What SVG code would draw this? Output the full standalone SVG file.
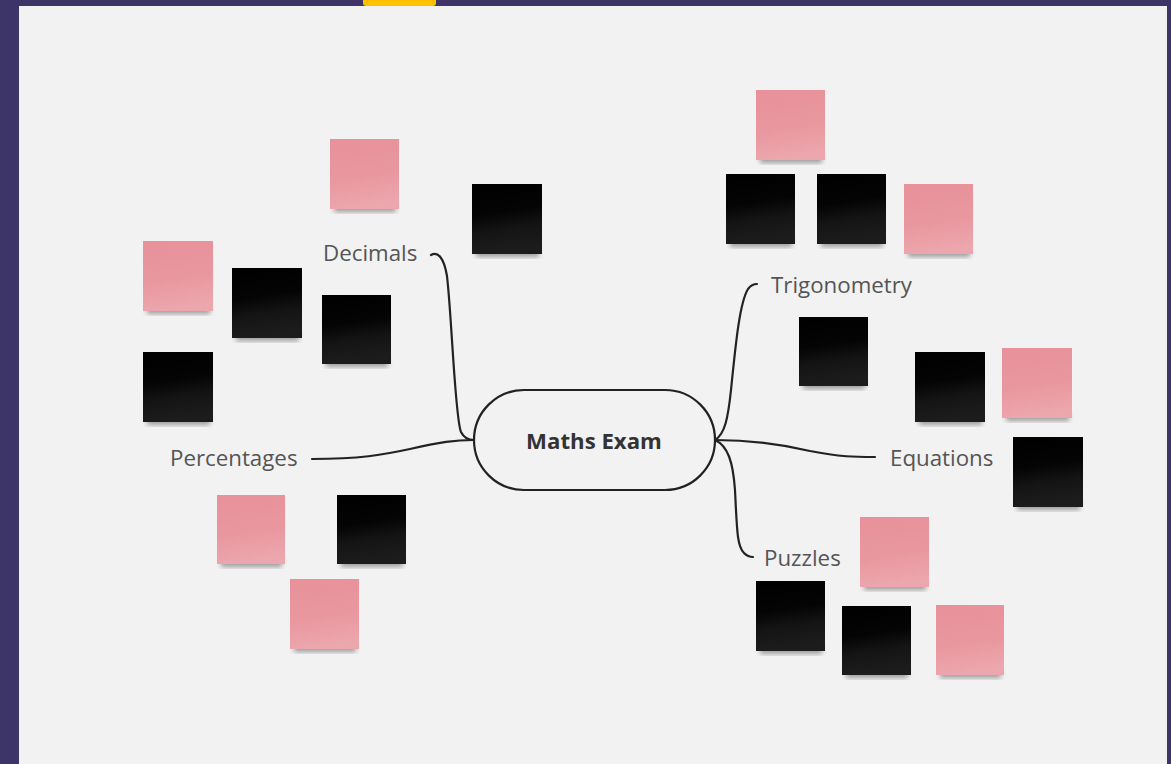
<svg xmlns="http://www.w3.org/2000/svg" width="1171" height="764" viewBox="0 0 1171 764">
<style>
.lbl{font-family:"Open Sans","Liberation Sans",sans-serif;font-size:22.3px;fill:#555555}
.title{font-family:"Open Sans","Liberation Sans",sans-serif;font-size:22.2px;font-weight:bold;fill:#333333}
.conn{fill:none;stroke:#222222;stroke-width:2.2;stroke-linecap:round}
.pink{fill:url(#gPink)}
.black{fill:url(#gBlack)}
.sh{fill:#000;opacity:0.35;filter:url(#blur)}
</style>
<defs>
<linearGradient id="gPink" x1="0" y1="0" x2="0.15" y2="1">
<stop offset="0" stop-color="#e8919a"/>
<stop offset="0.6" stop-color="#e9979f"/>
<stop offset="1" stop-color="#eca6ad"/>
</linearGradient>
<linearGradient id="gBlack" x1="0" y1="0" x2="0.15" y2="1">
<stop offset="0" stop-color="#000000"/>
<stop offset="0.45" stop-color="#040404"/>
<stop offset="0.7" stop-color="#141414"/>
<stop offset="1" stop-color="#1c1c1c"/>
</linearGradient>
<filter id="blur" x="-20%" y="-20%" width="140%" height="140%">
<feGaussianBlur stdDeviation="2.5"/>
</filter>
</defs>
<rect x="0" y="0" width="1171" height="764" fill="#3d3468"/>
<rect x="19" y="6" width="1148" height="758" fill="#f2f2f2"/>
<path d="M363,0 H436 V3 Q436,6 433,6 H366 Q363,6 363,3 Z" fill="#ffc000"/>

<g id="connectors">
<path class="conn" d="M431,255 C438,251 444,258 447,276 C452,320 455,418 461,432 C464,438 469,440 474,440"/>
<path class="conn" d="M312,459 C360,459 382,455 410,449 C440,442 455,440 474,440"/>
<path class="conn" d="M715,440 C725,434 728,418 731,390 C736,340 740,302 748,289 C751,285 754,284 757,284"/>
<path class="conn" d="M715,440 C745,440 780,444 810,451 C840,457 855,457 875,457"/>
<path class="conn" d="M715,440 C728,446 733,462 735,490 C737,530 737,546 744,553 C747,556 750,557 753,557"/>
</g>

<g id="center">
<rect x="474" y="390" width="241" height="100" rx="50" ry="50" fill="#f2f2f2" stroke="#222222" stroke-width="2.2"/>
<text class="title" x="594" y="449" text-anchor="middle">Maths Exam</text>
</g>

<g id="label-decimals"><text class="lbl" x="323" y="261">Decimals</text></g>
<g id="label-percentages"><text class="lbl" x="170" y="466">Percentages</text></g>
<g id="label-trigonometry"><text class="lbl" x="771" y="293">Trigonometry</text></g>
<g id="label-equations"><text class="lbl" x="890" y="466">Equations</text></g>
<g id="label-puzzles"><text class="lbl" x="764" y="566">Puzzles</text></g>

<g id="notes-left">
<g id="n1"><rect class="sh" x="334" y="203" width="62" height="9"/><rect class="pink" x="330" y="139" width="69" height="70"/></g>
<g id="n2"><rect class="sh" x="476" y="248" width="63" height="9"/><rect class="black" x="472" y="184" width="70" height="70"/></g>
<g id="n3"><rect class="sh" x="147" y="305" width="63" height="9"/><rect class="pink" x="143" y="241" width="70" height="70"/></g>
<g id="n4"><rect class="sh" x="236" y="332" width="63" height="9"/><rect class="black" x="232" y="268" width="70" height="70"/></g>
<g id="n5"><rect class="sh" x="326" y="358" width="62" height="9"/><rect class="black" x="322" y="295" width="69" height="69"/></g>
<g id="n6"><rect class="sh" x="147" y="416" width="63" height="9"/><rect class="black" x="143" y="352" width="70" height="70"/></g>
<g id="n7"><rect class="sh" x="221" y="558" width="61" height="9"/><rect class="pink" x="217" y="495" width="68" height="69"/></g>
<g id="n8"><rect class="sh" x="341" y="558" width="62" height="9"/><rect class="black" x="337" y="495" width="69" height="69"/></g>
<g id="n9"><rect class="sh" x="294" y="643" width="62" height="9"/><rect class="pink" x="290" y="579" width="69" height="70"/></g>
</g>

<g id="notes-right">
<g id="n10"><rect class="sh" x="760" y="154" width="62" height="9"/><rect class="pink" x="756" y="90" width="69" height="70"/></g>
<g id="n11"><rect class="sh" x="730" y="238" width="62" height="9"/><rect class="black" x="726" y="174" width="69" height="70"/></g>
<g id="n12"><rect class="sh" x="821" y="238" width="62" height="9"/><rect class="black" x="817" y="174" width="69" height="70"/></g>
<g id="n13"><rect class="sh" x="908" y="248" width="62" height="9"/><rect class="pink" x="904" y="184" width="69" height="70"/></g>
<g id="n14"><rect class="sh" x="803" y="380" width="62" height="9"/><rect class="black" x="799" y="317" width="69" height="69"/></g>
<g id="n15"><rect class="sh" x="919" y="416" width="63" height="9"/><rect class="black" x="915" y="352" width="70" height="70"/></g>
<g id="n16"><rect class="sh" x="1006" y="412" width="63" height="9"/><rect class="pink" x="1002" y="348" width="70" height="70"/></g>
<g id="n17"><rect class="sh" x="1017" y="501" width="63" height="9"/><rect class="black" x="1013" y="437" width="70" height="70"/></g>
<g id="n18"><rect class="sh" x="864" y="581" width="62" height="9"/><rect class="pink" x="860" y="517" width="69" height="70"/></g>
<g id="n19"><rect class="sh" x="760" y="645" width="62" height="9"/><rect class="black" x="756" y="581" width="69" height="70"/></g>
<g id="n20"><rect class="sh" x="846" y="669" width="62" height="9"/><rect class="black" x="842" y="606" width="69" height="69"/></g>
<g id="n21"><rect class="sh" x="940" y="669" width="61" height="9"/><rect class="pink" x="936" y="605" width="68" height="70"/></g>
</g>
</svg>
